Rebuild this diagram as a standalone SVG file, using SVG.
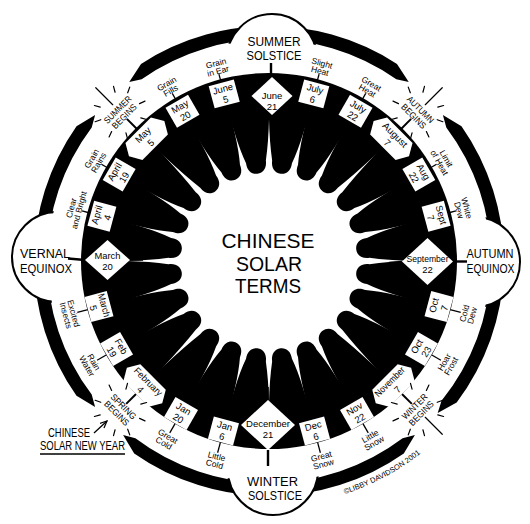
<svg xmlns="http://www.w3.org/2000/svg" xmlns:xlink="http://www.w3.org/1999/xlink" width="530" height="524" viewBox="0 0 530 524">
<style>
.f{font-family:"Liberation Sans",Arial,sans-serif;text-anchor:middle;fill:#000}
.big{font-size:12.5px}
.d{font-size:9.5px}
.l{font-size:8.5px}
.s{font-size:9px}
.box{fill:#fff}
.tick{stroke:#000;stroke-width:1.3}
.stick{stroke:#000;stroke-width:2}
.ray{stroke:#000;stroke-width:1.2;stroke-linecap:round}
.bub{fill:#fff;stroke:#000;stroke-width:2}
</style>
<defs>
<path id="arcT" d="M 0 -235 A 235 235 0 0 1 134.79 -192.50 L 145.91 -173.89 L 133.60 -177.30 A 222 222 0 0 0 0 -222 Z"/>
<path id="lCN" d="M -24.36 -173.27 L -18.54 -140.78 Q -15 -118 -10 -100 C -10 -92 -5.5 -88 0 -88 C 5.5 -88 10 -92 10 -100 Q 14 -112 17.23 -130.87 L 24.36 -173.27 Z"/>
<path id="lNN" d="M -24.36 -173.27 L -17.23 -130.87 Q -14 -112 -10 -100 C -10 -92 -5.5 -88 0 -88 C 5.5 -88 10 -92 10 -100 Q 14 -112 17.23 -130.87 L 24.36 -173.27 Z"/>
<path id="lNF" d="M -24.36 -173.27 L -17.23 -130.87 Q -14 -112 -10 -100 C -10 -92 -5.5 -88 0 -88 C 5.5 -88 10 -92 10 -100 Q 15 -120 19.06 -144.75 L 24.36 -173.27 Z"/>
<path id="lFN" d="M -24.36 -173.27 L -19.06 -144.75 Q -15 -120 -10 -100 C -10 -92 -5.5 -88 0 -88 C 5.5 -88 10 -92 10 -100 Q 14 -112 17.23 -130.87 L 24.36 -173.27 Z"/>
<path id="lNC" d="M -24.36 -173.27 L -17.23 -130.87 Q -14 -112 -10 -100 C -10 -92 -5.5 -88 0 -88 C 5.5 -88 10 -92 10 -100 Q 15 -118 18.54 -140.78 L 24.36 -173.27 Z"/>
<g id="raysShort">
<line x1="10.5" y1="-18.19" x2="13.5" y2="-23.38"/>
<line x1="19.03" y1="-8.87" x2="24.47" y2="-11.41"/>
<line x1="19.73" y1="7.18" x2="25.37" y2="9.23"/>
<line x1="10.5" y1="18.19" x2="13.5" y2="23.38"/>
<line x1="-10.5" y1="18.19" x2="-13.5" y2="23.38"/>
<line x1="-19.73" y1="7.18" x2="-25.37" y2="9.23"/>
<line x1="-19.03" y1="-8.87" x2="-24.47" y2="-11.41"/>
<line x1="-10.5" y1="-18.19" x2="-13.5" y2="-23.38"/>
</g>
<g id="rays">
<line x1="0" y1="-11" x2="0" y2="-35"/>
<use href="#raysShort" xlink:href="#raysShort"/>
</g>
<marker id="ah" viewBox="0 0 10 10" refX="9" refY="5" markerWidth="6" markerHeight="6" orient="auto"><path d="M0,1 L9,5 L0,9" fill="none" stroke="#000" stroke-width="1.6"/></marker>
<path id="cp" d="M 344.7 494.0 A 245 245 0 0 0 439.2 437.2" fill="none"/>
</defs>
<rect width="530" height="524" fill="#fff"/>

<g id="outer-arcs" fill="#000" transform="translate(269 261)">
<use xlink:href="#arcT" href="#arcT" transform="rotate(-2)"/>
<use xlink:href="#arcT" href="#arcT" transform="rotate(92)"/>
<use xlink:href="#arcT" href="#arcT" transform="rotate(180)"/>
<use xlink:href="#arcT" href="#arcT" transform="rotate(270)"/>
<use xlink:href="#arcT" href="#arcT" transform="rotate(90) scale(-1 1)"/>
<use xlink:href="#arcT" href="#arcT" transform="rotate(180) scale(-1 1)"/>
<use xlink:href="#arcT" href="#arcT" transform="rotate(270) scale(-1 1)"/>
<use xlink:href="#arcT" href="#arcT" transform="rotate(362) scale(-1 1)"/>
</g>

<g id="bubbles">
<circle class="bub" cx="272" cy="59" r="45"/>
<circle class="bub" cx="57" cy="257" r="45"/>
<circle class="bub" cx="475" cy="262" r="45"/>
<circle class="bub" cx="273" cy="470" r="45"/>
<circle cx="269" cy="261" r="221" fill="#fff"/>
</g>

<g id="core">
<circle cx="269" cy="261" r="188" fill="#000"/>
<circle cx="269" cy="261" r="160" fill="#fff"/>
<g fill="#000" transform="translate(269 261)">
<use href="#lCN" xlink:href="#lCN" transform="rotate(7.5)"/>
<use href="#lNN" xlink:href="#lNN" transform="rotate(22.5)"/>
<use href="#lNF" xlink:href="#lNF" transform="rotate(37.5)"/>
<use href="#lFN" xlink:href="#lFN" transform="rotate(52.5)"/>
<use href="#lNN" xlink:href="#lNN" transform="rotate(67.5)"/>
<use href="#lNC" xlink:href="#lNC" transform="rotate(82.5)"/>
<use href="#lCN" xlink:href="#lCN" transform="rotate(97.5)"/>
<use href="#lNN" xlink:href="#lNN" transform="rotate(112.5)"/>
<use href="#lNF" xlink:href="#lNF" transform="rotate(127.5)"/>
<use href="#lFN" xlink:href="#lFN" transform="rotate(142.5)"/>
<use href="#lNN" xlink:href="#lNN" transform="rotate(157.5)"/>
<use href="#lNC" xlink:href="#lNC" transform="rotate(172.5)"/>
<use href="#lCN" xlink:href="#lCN" transform="rotate(187.5)"/>
<use href="#lNN" xlink:href="#lNN" transform="rotate(202.5)"/>
<use href="#lNF" xlink:href="#lNF" transform="rotate(217.5)"/>
<use href="#lFN" xlink:href="#lFN" transform="rotate(232.5)"/>
<use href="#lNN" xlink:href="#lNN" transform="rotate(247.5)"/>
<use href="#lNC" xlink:href="#lNC" transform="rotate(262.5)"/>
<use href="#lCN" xlink:href="#lCN" transform="rotate(277.5)"/>
<use href="#lNN" xlink:href="#lNN" transform="rotate(292.5)"/>
<use href="#lNF" xlink:href="#lNF" transform="rotate(307.5)"/>
<use href="#lFN" xlink:href="#lFN" transform="rotate(322.5)"/>
<use href="#lNN" xlink:href="#lNN" transform="rotate(337.5)"/>
<use href="#lNC" xlink:href="#lNC" transform="rotate(352.5)"/>
</g>
</g>

<g id="connectors">
<g stroke="#000" stroke-width="1.5">
<line x1="272" y1="115" x2="272" y2="128"/>
<line x1="268" y1="400" x2="268" y2="387"/>
<line x1="130" y1="260" x2="143" y2="260"/>
<line x1="402" y1="261.5" x2="389" y2="262.5"/>
</g>
<g stroke="#000" stroke-width="2.4">
<line x1="271" y1="63" x2="271" y2="77"/>
<line x1="268" y1="450" x2="268" y2="466"/>
<polyline points="68,258.5 85,260" fill="none"/>
<line x1="453" y1="261.5" x2="467" y2="261.5"/>
</g>
<g transform="translate(269 261)">
<line class="tick" x1="0" y1="-184.5" x2="0" y2="-193.5" transform="rotate(15)"/>
<line class="tick" x1="0" y1="-184.5" x2="0" y2="-193.5" transform="rotate(30)"/>
<line class="tick" x1="0" y1="-184.5" x2="0" y2="-193.5" transform="rotate(60)"/>
<line class="tick" x1="0" y1="-184.5" x2="0" y2="-193.5" transform="rotate(75)"/>
<line class="tick" x1="0" y1="-184.5" x2="0" y2="-193.5" transform="rotate(285)"/>
<line class="tick" x1="0" y1="-184.5" x2="0" y2="-193.5" transform="rotate(300)"/>
<line class="tick" x1="0" y1="-184.5" x2="0" y2="-193.5" transform="rotate(330)"/>
<line class="tick" x1="0" y1="-184.5" x2="0" y2="-193.5" transform="rotate(345)"/>
<line class="tick" x1="0" y1="-187.5" x2="0" y2="-198.5" transform="rotate(105)"/>
<line class="tick" x1="0" y1="-187.5" x2="0" y2="-198.5" transform="rotate(120)"/>
<line class="tick" x1="0" y1="-187.5" x2="0" y2="-198.5" transform="rotate(150)"/>
<line class="tick" x1="0" y1="-187.5" x2="0" y2="-198.5" transform="rotate(165)"/>
<line class="tick" x1="0" y1="-187.5" x2="0" y2="-198.5" transform="rotate(195)"/>
<line class="tick" x1="0" y1="-187.5" x2="0" y2="-198.5" transform="rotate(210)"/>
<line class="tick" x1="0" y1="-187.5" x2="0" y2="-198.5" transform="rotate(240)"/>
<line class="tick" x1="0" y1="-187.5" x2="0" y2="-198.5" transform="rotate(255)"/>
<line class="stick" x1="0" y1="-185" x2="0" y2="-201" transform="rotate(45)"/>
<line class="stick" x1="0" y1="-185" x2="0" y2="-201" transform="rotate(315)"/>
<line class="stick" x1="0" y1="-188" x2="0" y2="-202" transform="rotate(135)"/>
<line class="stick" x1="0" y1="-188" x2="0" y2="-202" transform="rotate(225)"/>
</g>
<line x1="94" y1="433" x2="107" y2="421" stroke="#000" stroke-width="1.3" marker-end="url(#ah)"/>
</g>

<g id="diamonds">
<g id="june21"><polygon class="box" points="272,77 292.5,96 272,115 251.5,96"/><text class="f d" x="272" y="98.5">June</text><text class="f d" x="272" y="109.5">21</text></g>
<g id="dec21"><polygon class="box" points="268,400 295,425 268,450 241,425"/><text class="f d" x="268" y="427" textLength="44" lengthAdjust="spacingAndGlyphs">December</text><text class="f d" x="268" y="438">21</text></g>
<g id="march20"><polygon class="box" points="85,260 107.5,240 130,260 107.5,280"/><text class="f d" x="107.5" y="258.5" textLength="26" lengthAdjust="spacingAndGlyphs">March</text><text class="f d" x="107.5" y="270">20</text></g>
<g id="sept22"><polygon class="box" points="402,261.5 427.5,238 453,261.5 427.5,285"/><text class="f d" x="427.5" y="262" textLength="42" lengthAdjust="spacingAndGlyphs">September</text><text class="f d" x="427.5" y="273">22</text></g>
</g>

<g id="dates" transform="translate(269 261)">
<g id="d15" transform="rotate(15) translate(0 -173)"><rect class="box" x="-13" y="-11.5" width="26" height="23"/><text class="f d"><tspan x="0" y="-2">July</tspan><tspan x="0" y="9">6</tspan></text></g>
<g id="d30" transform="rotate(30) translate(0 -173)"><rect class="box" x="-13" y="-11.5" width="26" height="23"/><text class="f d"><tspan x="0" y="-2">July</tspan><tspan x="0" y="9">22</tspan></text></g>
<g id="d45" transform="rotate(45) translate(0 -173)"><polygon class="box" points="-25,0 -18,-12 18,-12 25,0 18,12 -18,12"/><text class="f d"><tspan x="0" y="-2" textLength="31" lengthAdjust="spacingAndGlyphs">August</tspan><tspan x="0" y="9">7</tspan></text></g>
<g id="d60" transform="rotate(60) translate(0 -173)"><rect class="box" x="-13" y="-11.5" width="26" height="23"/><text class="f d"><tspan x="0" y="-2">Aug</tspan><tspan x="0" y="9">22</tspan></text></g>
<g id="d75" transform="rotate(75) translate(0 -173)"><rect class="box" x="-13" y="-11.5" width="26" height="23"/><text class="f d"><tspan x="0" y="-2">Sept</tspan><tspan x="0" y="9">7</tspan></text></g>
<g id="d105" transform="rotate(105) translate(0 -176) rotate(180)"><rect class="box" x="-13" y="-11.5" width="26" height="23"/><text class="f d"><tspan x="0" y="-2">Oct</tspan><tspan x="0" y="9">7</tspan></text></g>
<g id="d120" transform="rotate(120) translate(0 -176) rotate(180)"><rect class="box" x="-13" y="-11.5" width="26" height="23"/><text class="f d"><tspan x="0" y="-2">Oct</tspan><tspan x="0" y="9">23</tspan></text></g>
<g id="d135" transform="rotate(135) translate(0 -176) rotate(180)"><polygon class="box" points="-25,0 -18,-12 18,-12 25,0 18,12 -18,12"/><text class="f d"><tspan x="0" y="-2" textLength="38" lengthAdjust="spacingAndGlyphs">November</tspan><tspan x="0" y="9">7</tspan></text></g>
<g id="d150" transform="rotate(150) translate(0 -176) rotate(180)"><rect class="box" x="-13" y="-11.5" width="26" height="23"/><text class="f d"><tspan x="0" y="-2">Nov</tspan><tspan x="0" y="9">22</tspan></text></g>
<g id="d165" transform="rotate(165) translate(0 -176) rotate(180)"><rect class="box" x="-13" y="-11.5" width="26" height="23"/><text class="f d"><tspan x="0" y="-2">Dec</tspan><tspan x="0" y="9">6</tspan></text></g>
<g id="d195" transform="rotate(195) translate(0 -176) rotate(180)"><rect class="box" x="-13" y="-11.5" width="26" height="23"/><text class="f d"><tspan x="0" y="-2">Jan</tspan><tspan x="0" y="9">6</tspan></text></g>
<g id="d210" transform="rotate(210) translate(0 -176) rotate(180)"><rect class="box" x="-13" y="-11.5" width="26" height="23"/><text class="f d"><tspan x="0" y="-2">Jan</tspan><tspan x="0" y="9">20</tspan></text></g>
<g id="d225" transform="rotate(225) translate(0 -176) rotate(180)"><polygon class="box" points="-25,0 -18,-12 18,-12 25,0 18,12 -18,12"/><text class="f d"><tspan x="0" y="-2" textLength="36" lengthAdjust="spacingAndGlyphs">February</tspan><tspan x="0" y="9">4</tspan></text></g>
<g id="d240" transform="rotate(240) translate(0 -176) rotate(180)"><rect class="box" x="-13" y="-11.5" width="26" height="23"/><text class="f d"><tspan x="0" y="-2">Feb</tspan><tspan x="0" y="9">19</tspan></text></g>
<g id="d255" transform="rotate(255) translate(0 -176) rotate(180)"><rect class="box" x="-13" y="-11.5" width="26" height="23"/><text class="f d"><tspan x="0" y="-2" textLength="24" lengthAdjust="spacingAndGlyphs">March</tspan><tspan x="0" y="9">5</tspan></text></g>
<g id="d285" transform="rotate(285) translate(0 -173)"><rect class="box" x="-13" y="-11.5" width="26" height="23"/><text class="f d"><tspan x="0" y="-2">April</tspan><tspan x="0" y="9">4</tspan></text></g>
<g id="d300" transform="rotate(300) translate(0 -173)"><rect class="box" x="-13" y="-11.5" width="26" height="23"/><text class="f d"><tspan x="0" y="-2">April</tspan><tspan x="0" y="9">19</tspan></text></g>
<g id="d315" transform="rotate(315) translate(0 -173)"><polygon class="box" points="-25,0 -18,-12 18,-12 25,0 18,12 -18,12"/><text class="f d"><tspan x="0" y="-2">May</tspan><tspan x="0" y="9">5</tspan></text></g>
<g id="d330" transform="rotate(330) translate(0 -173)"><rect class="box" x="-13" y="-11.5" width="26" height="23"/><text class="f d"><tspan x="0" y="-2">May</tspan><tspan x="0" y="9">20</tspan></text></g>
<g id="d345" transform="rotate(345) translate(0 -173)"><rect class="box" x="-13" y="-11.5" width="26" height="23"/><text class="f d"><tspan x="0" y="-2">June</tspan><tspan x="0" y="9">5</tspan></text></g>
</g>

<g id="terms" transform="translate(269 261)">
<g id="t15" transform="rotate(15) translate(0 -201)"><text class="f l"><tspan x="0" y="-0.75">Slight</tspan><tspan x="0" y="7.25">Heat</tspan></text></g>
<g id="t30" transform="rotate(30) translate(0 -201)"><text class="f l"><tspan x="0" y="-0.75">Great</tspan><tspan x="0" y="7.25">Heat</tspan></text></g>
<g id="t60" transform="rotate(60) translate(0 -201)"><text class="f l"><tspan x="0" y="-0.75">Limit</tspan><tspan x="0" y="7.25">of Heat</tspan></text></g>
<g id="t75" transform="rotate(75) translate(0 -201)"><text class="f l"><tspan x="0" y="-0.75">White</tspan><tspan x="0" y="7.25">Dew</tspan></text></g>
<g id="t105" transform="rotate(105) translate(0 -206) rotate(180)"><text class="f l"><tspan x="0" y="-0.75">Cold</tspan><tspan x="0" y="7.25">Dew</tspan></text></g>
<g id="t120" transform="rotate(120) translate(0 -206) rotate(180)"><text class="f l"><tspan x="0" y="-0.75">Hoar</tspan><tspan x="0" y="7.25">Frost</tspan></text></g>
<g id="t150" transform="rotate(150) translate(0 -206) rotate(180)"><text class="f l"><tspan x="0" y="-0.75">Little</tspan><tspan x="0" y="7.25">Snow</tspan></text></g>
<g id="t165" transform="rotate(165) translate(0 -206) rotate(180)"><text class="f l"><tspan x="0" y="-0.75">Great</tspan><tspan x="0" y="7.25">Snow</tspan></text></g>
<g id="t195" transform="rotate(195) translate(0 -206) rotate(180)"><text class="f l"><tspan x="0" y="-0.75">Little</tspan><tspan x="0" y="7.25">Cold</tspan></text></g>
<g id="t210" transform="rotate(210) translate(0 -206) rotate(180)"><text class="f l"><tspan x="0" y="-0.75">Great</tspan><tspan x="0" y="7.25">Cold</tspan></text></g>
<g id="t240" transform="rotate(240) translate(0 -206) rotate(180)"><text class="f l"><tspan x="0" y="-0.75">Rain</tspan><tspan x="0" y="7.25">Water</tspan></text></g>
<g id="t255" transform="rotate(255) translate(0 -206) rotate(180)"><text class="f l"><tspan x="0" y="-0.75">Excited</tspan><tspan x="0" y="7.25">Insects</tspan></text></g>
<g id="t285" transform="rotate(285) translate(0 -201)"><text class="f l"><tspan x="0" y="-0.75">Clear</tspan><tspan x="0" y="7.25">and Bright</tspan></text></g>
<g id="t300" transform="rotate(300) translate(0 -201)"><text class="f l"><tspan x="0" y="-0.75">Grain</tspan><tspan x="0" y="7.25">Rains</tspan></text></g>
<g id="t330" transform="rotate(330) translate(0 -201)"><text class="f l"><tspan x="0" y="-0.75">Grain</tspan><tspan x="0" y="7.25">Fills</tspan></text></g>
<g id="t345" transform="rotate(345) translate(0 -201)"><text class="f l"><tspan x="0" y="-0.75">Grain</tspan><tspan x="0" y="7.25">in Ear</tspan></text></g>
</g>

<g id="seasons" transform="translate(269 261)">
<g id="s45" transform="rotate(45) translate(0 -210)"><g class="ray"><use href="#rays" xlink:href="#rays"/></g><text class="f s"><tspan x="0" y="-1" textLength="34" lengthAdjust="spacingAndGlyphs">AUTUMN</tspan><tspan x="0" y="8.5" textLength="31" lengthAdjust="spacingAndGlyphs">BEGINS</tspan></text></g>
<g id="s135" transform="rotate(135) translate(0 -210)"><g class="ray"><use href="#rays" xlink:href="#rays"/></g><text class="f s" transform="rotate(180)"><tspan x="0" y="-1" textLength="32" lengthAdjust="spacingAndGlyphs">WINTER</tspan><tspan x="0" y="8.5" textLength="31" lengthAdjust="spacingAndGlyphs">BEGINS</tspan></text></g>
<g id="s225" transform="rotate(225) translate(0 -210)"><g class="ray"><use href="#raysShort" xlink:href="#raysShort"/></g><text class="f s" transform="rotate(180)"><tspan x="0" y="-1" textLength="32" lengthAdjust="spacingAndGlyphs">SPRING</tspan><tspan x="0" y="8.5" textLength="31" lengthAdjust="spacingAndGlyphs">BEGINS</tspan></text></g>
<g id="s315" transform="rotate(315) translate(0 -210)"><g class="ray"><use href="#rays" xlink:href="#rays"/></g><text class="f s"><tspan x="0" y="-1" textLength="35" lengthAdjust="spacingAndGlyphs">SUMMER</tspan><tspan x="0" y="8.5" textLength="31" lengthAdjust="spacingAndGlyphs">BEGINS</tspan></text></g>
</g>

<g id="bubble-labels">
<g id="summer-solstice"><text class="f big" x="274" y="46" textLength="53" lengthAdjust="spacingAndGlyphs">SUMMER</text><text class="f big" x="274" y="60" textLength="55" lengthAdjust="spacingAndGlyphs">SOLSTICE</text></g>
<g id="vernal-equinox"><text class="f big" x="45" y="258" textLength="50" lengthAdjust="spacingAndGlyphs">VERNAL</text><text class="f big" x="46" y="273" textLength="52" lengthAdjust="spacingAndGlyphs">EQUINOX</text></g>
<g id="autumn-equinox"><text class="f big" x="490" y="258" textLength="47" lengthAdjust="spacingAndGlyphs">AUTUMN</text><text class="f big" x="490.5" y="273" textLength="48" lengthAdjust="spacingAndGlyphs">EQUINOX</text></g>
<g id="winter-solstice"><text class="f big" x="272.5" y="486" textLength="51" lengthAdjust="spacingAndGlyphs">WINTER</text><text class="f big" x="275" y="500" textLength="54" lengthAdjust="spacingAndGlyphs">SOLSTICE</text></g>
</g>

<g id="title"><text class="f" style="font-size:21px" x="268" y="248" textLength="93" lengthAdjust="spacingAndGlyphs">CHINESE</text><text class="f" style="font-size:21px" x="269" y="271" textLength="66" lengthAdjust="spacingAndGlyphs">SOLAR</text><text class="f" style="font-size:21px" x="268" y="293" textLength="66" lengthAdjust="spacingAndGlyphs">TERMS</text></g>

<g id="new-year"><text class="f" style="font-size:12px" x="69" y="437" textLength="42" lengthAdjust="spacingAndGlyphs">CHINESE</text><text class="f" style="font-size:12px" x="82.5" y="450" textLength="85" lengthAdjust="spacingAndGlyphs">SOLAR NEW YEAR</text><line x1="40" y1="454" x2="125" y2="454" stroke="#000" stroke-width="1.3"/></g>

<g id="credit"><text class="f" style="font-size:7.5px;text-anchor:start"><textPath href="#cp" xlink:href="#cp">©LIBBY DAVIDSON 2001</textPath></text></g>
</svg>
